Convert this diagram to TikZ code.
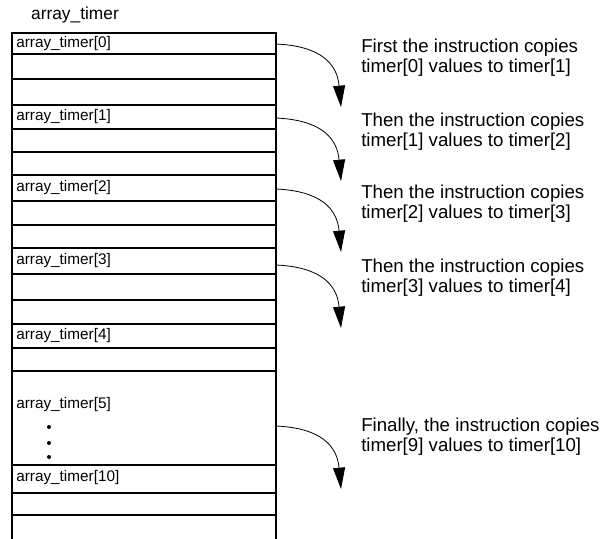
\documentclass[tikz,border=0pt]{standalone}
\usepackage{fontspec}
\setmainfont{Liberation Sans}
\usetikzlibrary{positioning,arrows.meta}
\tikzset{
  cell/.style={draw=black, line width=0.9pt},
  celllabel/.style={anchor=west, inner sep=0pt, font=\fontsize{11.5}{13}\selectfont},
  copynote/.style={anchor=west, align=left, inner sep=0pt, font=\fontsize{14}{15}\selectfont},
  copyarrow/.style={-{Triangle[width=9pt,length=16pt]}, line width=0.6pt},
}

\begin{document}
\begin{tikzpicture}[x=0.75pt,y=-0.75pt]
\useasboundingbox (0,0) rectangle (600,539);
% frame of the array
\draw[cell] (12,539) -- (12,33) -- (276,33) -- (276,539);
% lines between the elements
\foreach \y in {54,79,105,129,152,175,201,225,248,274,300,324,348,371,465,493,515}
  \draw[cell] (12,\y) -- (276,\y);

\node[font=\fontsize{13}{15}\selectfont] (title) at (75,15) {array\_timer};

% element labels
\node[celllabel] (t0) at (16,44) {array\_timer[0]};
\node[celllabel] (t1) at (16,117) {array\_timer[1]};
\node[celllabel] (t2) at (16,188) {array\_timer[2]};
\node[celllabel] (t3) at (16,261) {array\_timer[3]};
\node[celllabel] (t4) at (16,336) {array\_timer[4]};
\node[celllabel] (t5) at (16,405) {array\_timer[5]};
\node[celllabel] (t10) at (16,478) {array\_timer[10]};

% dots for the skipped elements
\foreach \y in {427,443,457}
  \fill (49,\y) circle (1.5pt);

% copy arrows
\foreach \i/\ys in {0/44,1/118,2/189,3/265,9/426} {
  \coordinate (from\i) at (276,\ys);
  \coordinate (to\i) at (341,\ys+63);
  \draw[copyarrow] (from\i) .. controls +(44,2) and +(-4,-44) .. (to\i);
}

% notes
\node[copynote] (n0) at (361,58) {First the instruction copies\\timer[0] values to timer[1]};
\node[copynote] (n1) at (361,132) {Then the instruction copies\\timer[1] values to timer[2]};
\node[copynote] (n2) at (361,204) {Then the instruction copies\\timer[2] values to timer[3]};
\node[copynote] (n3) at (361,278) {Then the instruction copies\\timer[3] values to timer[4]};
\node[copynote] (n9) at (361,437) {Finally, the instruction copies\\timer[9] values to timer[10]};
\end{tikzpicture}
\end{document}
